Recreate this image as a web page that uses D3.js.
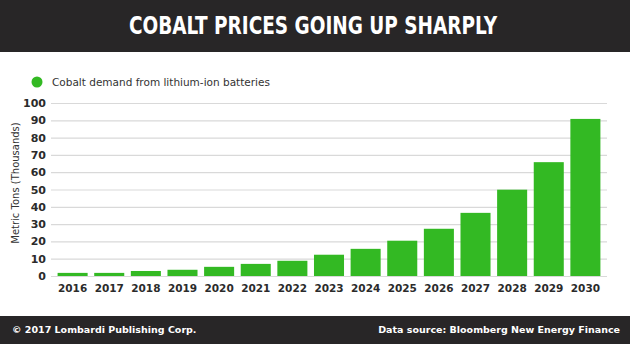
<!DOCTYPE html>
<html>
<head>
<meta charset="utf-8">
<script src="https://cdn.jsdelivr.net/npm/d3@7"></script>
<style>
  body { margin: 0; background: #fff; }
  svg { display: block; }
</style>
</head>
<body>
<div id="chart"></div>
<script>
// data (thousand metric tons)
var years = ["2016", "2017", "2018", "2019", "2020", "2021", "2022", "2023",
             "2024", "2025", "2026", "2027", "2028", "2029", "2030"];
var demand = [1.8, 1.8, 2.9, 3.6, 5.3, 7.0, 8.8, 12.3, 15.7, 20.4, 27.3, 36.5, 49.9, 65.8, 90.8];
var yTicks = [0, 10, 20, 30, 40, 50, 60, 70, 80, 90, 100];

var width = 630, height = 344;
var margin = { top: 103, right: 23, bottom: 68, left: 51 };
var labelFont = "'DejaVu Sans', sans-serif";

var svg = d3.select("#chart").append("svg")
    .attr("width", width)
    .attr("height", height);

// header + footer bars
svg.append("rect").attr("x", 0).attr("y", 0).attr("width", width).attr("height", 52).style("fill", "#282627");
svg.append("text")
    .attr("x", 313).attr("y", 34)
    .attr("text-anchor", "middle")
    .attr("textLength", 368).attr("lengthAdjust", "spacingAndGlyphs")
    .style("font-family", "'Liberation Sans Narrow', 'DejaVu Sans Condensed', sans-serif")
    .style("font-weight", "bold").style("font-size", "24px")
    .style("fill", "#fff")
    .text("COBALT PRICES GOING UP SHARPLY");

svg.append("rect").attr("x", 0).attr("y", 316).attr("width", width).attr("height", 28).style("fill", "#282627");
svg.append("text")
    .attr("x", 12).attr("y", 333)
    .style("font-family", labelFont).style("font-weight", "bold").style("font-size", "9.5px")
    .style("fill", "#fff")
    .text("\u00a9 2017 Lombardi Publishing Corp.");
svg.append("text")
    .attr("x", 620).attr("y", 333)
    .attr("text-anchor", "end")
    .style("font-family", labelFont).style("font-weight", "bold").style("font-size", "9.5px")
    .style("fill", "#fff")
    .text("Data source: Bloomberg New Energy Finance");

// scales
var x = d3.scaleBand()
    .domain(years)
    .range([margin.left, width - margin.right])
    .padding(0.18);

var y = d3.scaleLinear()
    .domain([0, 100])
    .range([height - margin.bottom, margin.top]);

// gridlines
var g = svg.append("g");
g.selectAll(".grid")
    .data(yTicks)
    .enter().append("line")
    .attr("class", "grid")
    .attr("x1", margin.left).attr("x2", width - margin.right)
    .attr("y1", function(d) { return y(d) + 0.5; })
    .attr("y2", function(d) { return y(d) + 0.5; })
    .style("stroke", "#d9d9d9").style("stroke-width", 1.2);

// y axis labels
var yAxis = svg.append("g")
    .attr("transform", "translate(" + (margin.left - 5) + ",0)")
    .call(d3.axisLeft(y).tickValues(yTicks).tickSize(0).tickPadding(0));
yAxis.select(".domain").remove();
yAxis.selectAll("text")
    .style("font-family", labelFont).style("font-weight", "bold").style("font-size", "11px")
    .style("fill", "#2b2b2b");

svg.append("text")
    .attr("transform", "translate(19,183) rotate(-90)")
    .attr("text-anchor", "middle")
    .style("font-family", labelFont).style("font-size", "10px")
    .style("fill", "#333")
    .text("Metric Tons (Thousands)");

// bars
svg.selectAll(".bar")
    .data(demand)
    .enter().append("rect")
    .attr("class", "bar")
    .attr("x", function(d, i) { return x(years[i]); })
    .attr("width", x.bandwidth())
    .attr("y", function(d) { return y(d); })
    .attr("height", function(d) { return y(0) - y(d); })
    .style("fill", "#33b923");

// x axis labels
var xAxis = svg.append("g")
    .attr("transform", "translate(0," + y(0) + ")")
    .call(d3.axisBottom(x).tickSize(0).tickPadding(9));
xAxis.select(".domain").remove();
xAxis.selectAll("text")
    .style("font-family", labelFont).style("font-weight", "bold").style("font-size", "10.5px")
    .style("fill", "#2b2b2b");

// legend
svg.append("circle").attr("cx", 37).attr("cy", 82).attr("r", 5.5).style("fill", "#33b923");
svg.append("text")
    .attr("x", 52).attr("y", 86)
    .style("font-family", labelFont).style("font-size", "10.5px")
    .style("fill", "#333")
    .text("Cobalt demand from lithium-ion batteries");
</script>
</body>
</html>
